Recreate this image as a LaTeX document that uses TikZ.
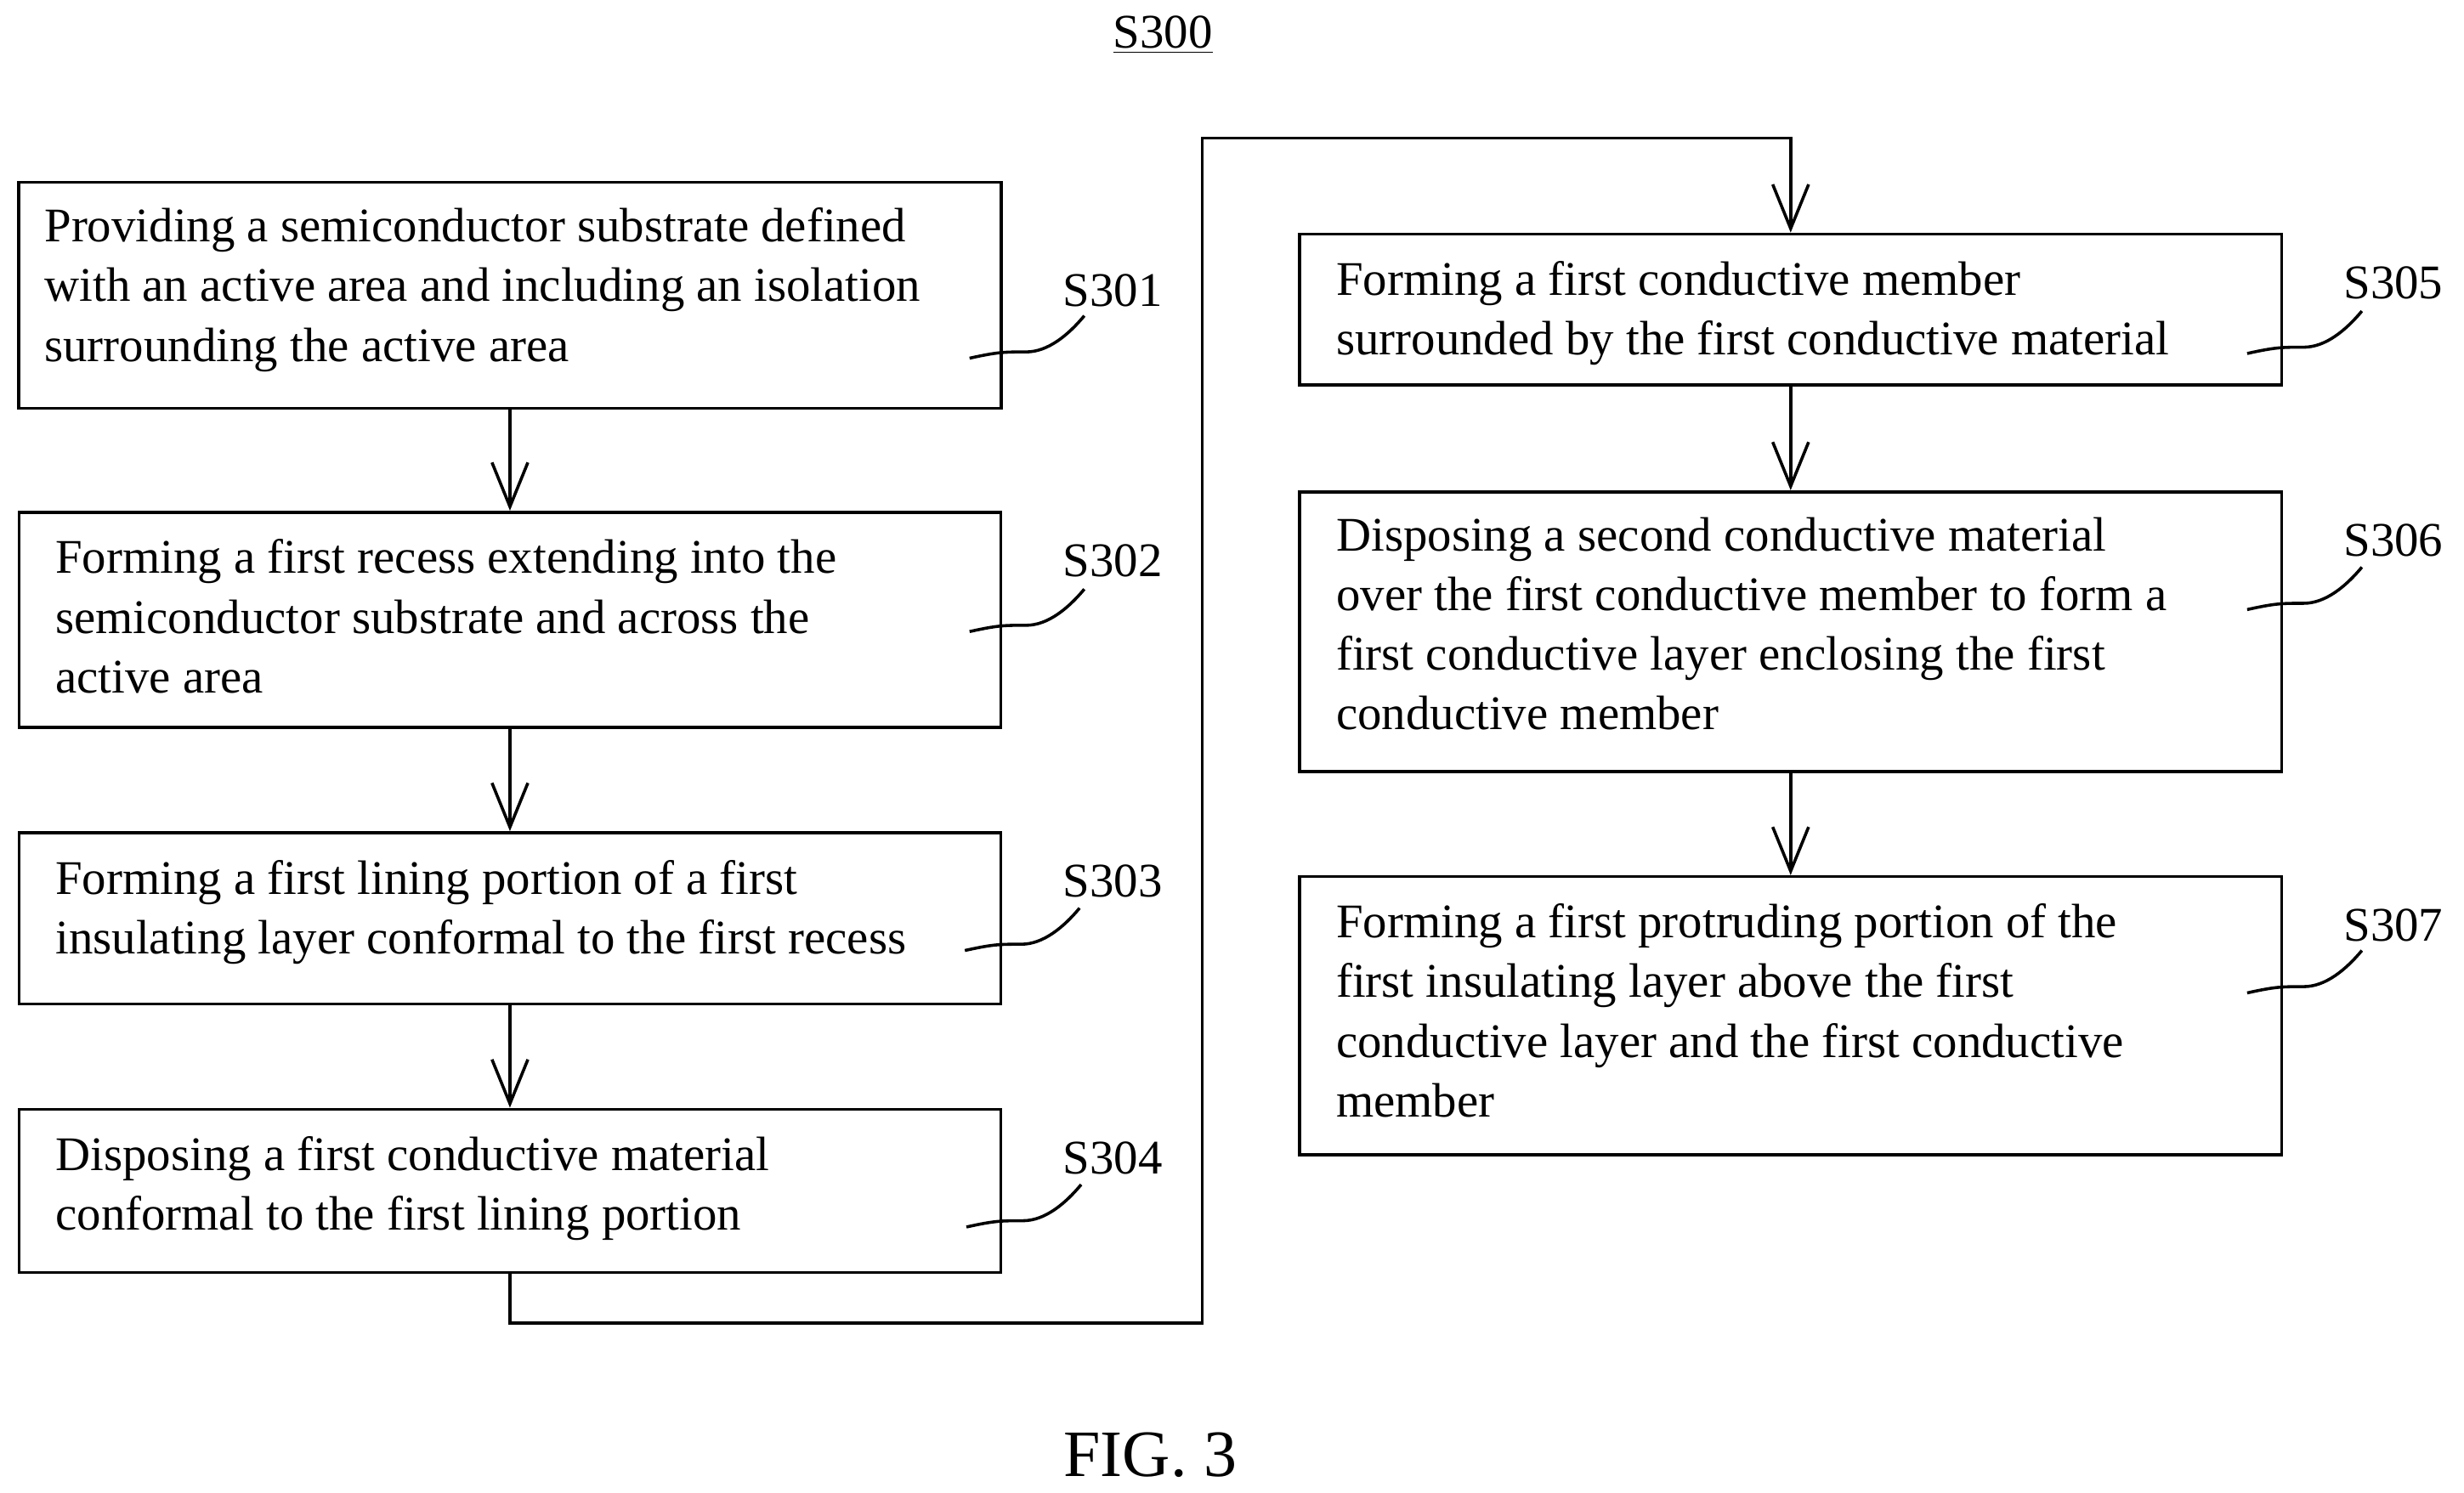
\documentclass[tikz,border=0pt]{standalone}
\usepackage{fontspec}
\setmainfont{Liberation Serif}
\usetikzlibrary{arrows.meta,calc}
\begin{document}
\begin{tikzpicture}[x=0.02cm,y=-0.02cm,
  box/.style={draw,line width=1.1pt,inner sep=0pt},
  txt/.style={anchor=north west,align=left,inner sep=0pt,font=\fontsize{17.5}{21.6}\selectfont},
  lab/.style={font=\fontsize{17.5}{20}\selectfont,inner sep=0pt},
  arr/.style={line width=1.1pt,-{Straight Barb[length=16pt,width=13pt,line width=1.1pt]}},
  sq/.style={line width=1.1pt}]
\useasboundingbox (0,0) rectangle (1568,950);
\newcommand\squig[3]{\coordinate (#1) at (#2,#3);
  \draw[sq] (#1) .. controls +(18,-4) and +(-14,0) .. +(36,-4) .. controls +(14,0) and +(-10,12) .. +(73,-27);}
\node[lab] (t) at (740,22) {\underline{S300}};
\node[font=\fontsize{24}{26}\selectfont,inner sep=0pt] (fig) at (732,926) {FIG. 3};
% boxes
\draw[box] (12,116) rectangle (637,260) coordinate[pos=0.5] (b1);
\node[box,minimum width=12.5cm,minimum height=2.88cm] (b1) at (324.5,188) {};
\node[box,minimum width=12.5cm,minimum height=2.74cm] (b2) at (324.5,394.5) {};
\node[box,minimum width=12.5cm,minimum height=2.18cm] (b3) at (324.5,584.5) {};
\node[box,minimum width=12.5cm,minimum height=2.08cm] (b4) at (324.5,758) {};
\node[box,minimum width=12.5cm,minimum height=1.92cm] (b5) at (1139.5,197) {};
\node[box,minimum width=12.5cm,minimum height=3.56cm] (b6) at (1139.5,402) {};
\node[box,minimum width=12.5cm,minimum height=3.54cm] (b7) at (1139.5,646.5) {};
\node[txt] (x1) at (28,132) {Providing a semiconductor substrate defined\\with an active area and including an isolation\\surrounding the active area};
\node[txt] (x2) at (35,343) {Forming a first recess extending into the\\semiconductor substrate and across the\\active area};
\node[txt] (x3) at (35,547) {Forming a first lining portion of a first\\insulating layer conformal to the first recess};
\node[txt] (x4) at (35,723) {Disposing a first conductive material\\conformal to the first lining portion};
\node[txt] (x5) at (850,166) {Forming a first conductive member\\surrounded by the first conductive material};
\node[txt] (x6) at (850,329) {Disposing a second conductive material\\over the first conductive member to form a\\first conductive layer enclosing the first\\conductive member};
\node[txt] (x7) at (850,575) {Forming a first protruding portion of the\\first insulating layer above the first\\conductive layer and the first conductive\\member};
% labels
\node[lab] (l1) at (708,185) {S301};
\node[lab] (l2) at (708,357) {S302};
\node[lab] (l3) at (708,561) {S303};
\node[lab] (l4) at (708,737) {S304};
\node[lab] (l5) at (1523,180) {S305};
\node[lab] (l6) at (1523,344) {S306};
\node[lab] (l7) at (1523,589) {S307};
\squig{q1}{617}{228}
\squig{q2}{617}{402}
\squig{q3}{614}{605}
\squig{q4}{615}{781}
\squig{q5}{1430}{225}
\squig{q6}{1430}{388}
\squig{q7}{1430}{632}
% arrows
\draw[arr] (b1.south) -- (b2.north);
\draw[arr] (b2.south) -- (b3.north);
\draw[arr] (b3.south) -- (b4.north);
\draw[arr] (b5.south) -- (b6.north);
\draw[arr] (b6.south) -- (b7.north);
\draw[arr] (b4.south) |- (765,842) |- (1139.5,88) -- (b5.north);
\end{tikzpicture}
\end{document}
